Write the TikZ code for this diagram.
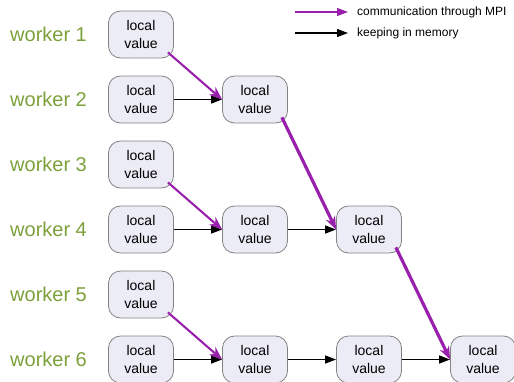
\documentclass[tikz,border=0pt]{standalone}
\usepackage{fontspec}
\setmainfont{Liberation Sans}
\usetikzlibrary{arrows.meta}
\definecolor{wgreen}{RGB}{124,160,58}
\definecolor{mpipurple}{RGB}{153,32,172}
\definecolor{boxfill}{RGB}{236,236,246}
\definecolor{boxline}{RGB}{130,130,130}

\begin{document}
\begin{tikzpicture}[x=1pt,y=-1pt]
	\tikzstyle{val}=[draw=boxline,fill=boxfill,line width=0.8pt,rounded corners=12pt,minimum width=65pt,minimum height=47pt,align=center,inner sep=0pt,font=\fontsize{14}{18}\selectfont];
	\tikzstyle{worker}=[anchor=west,inner sep=0pt,text=wgreen,font=\fontsize{20}{24}\selectfont];
	\tikzstyle{keep}=[line width=1.3pt,-{Triangle[length=11pt,width=8pt]}];
	\tikzstyle{mpi}=[draw=mpipurple,line width=3.2pt,-{Stealth[length=13pt,width=10pt]}];
\tikzstyle{legendtext}=[anchor=west,inner sep=0pt,font=\fontsize{12}{14}\selectfont];
	\useasboundingbox (0,0) rectangle (514,381);

	% worker labels
	\node[worker] (w1) at (10,34.5)  {worker 1};
	\node[worker] (w2) at (10,99.5)  {worker 2};
	\node[worker] (w3) at (10,164.5) {worker 3};
	\node[worker] (w4) at (10,229.5) {worker 4};
	\node[worker] (w5) at (10,294.5) {worker 5};
	\node[worker] (w6) at (10,359.5) {worker 6};

	% local values
	\node[val] (v11) at (141,34.5)  {local\\value};
	\node[val] (v12) at (141,99.5)  {local\\value};
	\node[val] (v13) at (141,164.5) {local\\value};
	\node[val] (v14) at (141,229.5) {local\\value};
	\node[val] (v15) at (141,294.5) {local\\value};
	\node[val] (v16) at (141,359.5) {local\\value};
	\node[val] (v22) at (255,99.5)  {local\\value};
	\node[val] (v24) at (255,229.5) {local\\value};
	\node[val] (v26) at (255,359.5) {local\\value};
	\node[val] (v34) at (369,229.5) {local\\value};
	\node[val] (v36) at (369,359.5) {local\\value};
	\node[val] (v46) at (483,359.5) {local\\value};

	% keeping in memory
	\draw[keep] (v12.east) -- (v22.west);
	\draw[keep] (v14.east) -- (v24.west);
	\draw[keep] (v24.east) -- (v34.west);
	\draw[keep] (v16.east) -- (v26.west);
	\draw[keep] (v26.east) -- (v36.west);
	\draw[keep] (v36.east) -- (v46.west);

	% communication
	\draw[mpi,line width=2.1pt] ([xshift=-6pt,yshift=6pt]v11.south east) -- (v22.west);
	\draw[mpi,line width=2.1pt] ([xshift=-6pt,yshift=6pt]v13.south east) -- (v24.west);
	\draw[mpi,line width=2.1pt] ([xshift=-6pt,yshift=6pt]v15.south east) -- (v26.west);
	\draw[mpi] ([xshift=-6pt,yshift=6pt]v22.south east) -- (v34.west);
	\draw[mpi] ([xshift=-6pt,yshift=6pt]v34.south east) -- (v46.west);

	% legend
	\coordinate (la) at (295,12);
	\coordinate (lb) at (348,12);
	\coordinate (lc) at (295,33);
	\coordinate (ld) at (348,33);
	\draw[mpi,line width=1.3pt,-{Triangle[length=11pt,width=8pt]}] (la) -- (lb);
	\draw[keep] (lc) -- (ld);
	\node[legendtext] (l1) at (357,12) {communication through MPI};
	\node[legendtext] (l2) at (357,33) {keeping in memory};
\end{tikzpicture}
\end{document}
